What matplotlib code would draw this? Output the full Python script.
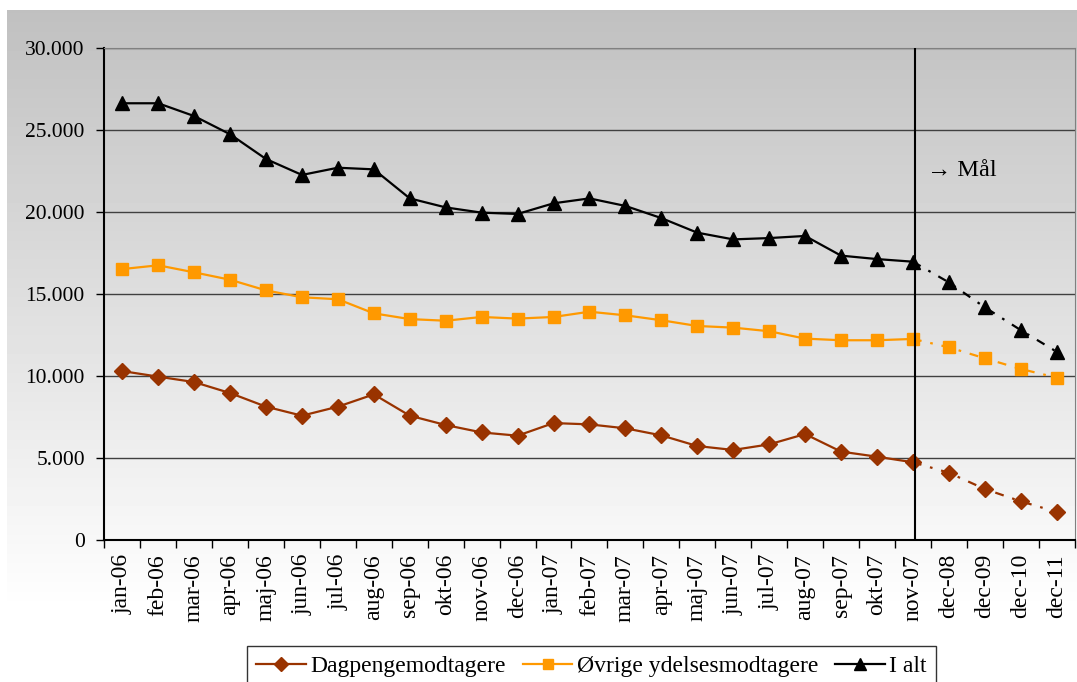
import numpy as np
import matplotlib.pyplot as plt
from matplotlib.lines import Line2D
from matplotlib.ticker import FuncFormatter, FixedLocator

plt.rcParams["font.family"] = ["Liberation Serif", "DejaVu Serif"]

months = ["jan-06", "feb-06", "mar-06", "apr-06", "maj-06", "jun-06", "jul-06",
          "aug-06", "sep-06", "okt-06", "nov-06", "dec-06", "jan-07", "feb-07",
          "mar-07", "apr-07", "maj-07", "jun-07", "jul-07", "aug-07", "sep-07",
          "okt-07", "nov-07", "dec-08", "dec-09", "dec-10", "dec-11"]

dagpenge = [10300, 9960, 9630, 8960, 8130, 7580, 8130, 8880, 7580, 7010, 6560,
            6360, 7130, 7050, 6810, 6380, 5730, 5490, 5830, 6460, 5390, 5080,
            4740, 4100, 3110, 2360, 1710]
ovrige = [16520, 16750, 16320, 15870, 15220, 14800, 14680, 13820, 13470, 13370,
          13600, 13500, 13600, 13920, 13700, 13400, 13050, 12950, 12730, 12280,
          12180, 12180, 12260, 11750, 11080, 10430, 9900]
i_alt = [26630, 26630, 25850, 24740, 23230, 22260, 22700, 22600, 20830, 20280,
         19960, 19880, 20530, 20830, 20370, 19630, 18740, 18330, 18410, 18540,
         17340, 17130, 16970, 15710, 14190, 12800, 11480]

last_actual = 22  # nov-07, after that targets ("Mål")

W, H = 1077, 682
fig = plt.figure(figsize=(W / 100, H / 100), dpi=100)

# gradient chart background (gray at top -> white lower down)
bg = fig.add_axes([7 / W, 0, 1 - 7 / W, 1 - 10 / H])
rows = np.arange(10, H)
shade = np.clip(192 + (rows - 10) / (610 - 10) * 63, 0, 255) / 255
bg.imshow(shade.reshape(-1, 1), aspect="auto", cmap="gray", vmin=0, vmax=1,
          extent=[0, 1, 0, 1], origin="upper")
bg.set_axis_off()

ax = fig.add_axes([104.3 / W, 1 - 540 / H, (1074.6 - 104.3) / W, 492 / H])
ax.patch.set_alpha(0)

x = np.arange(len(months))
series = [
    (dagpenge, "#993300", "D", 8, "Dagpengemodtagere"),
    (ovrige, "#FF9900", "s", 8.5, "Øvrige ydelsesmodtagere"),
    (i_alt, "black", "^", 10, "I alt"),
]
handles = []
for vals, col, mk, ms, lab in series:
    v = np.array(vals)
    n = last_actual + 1
    ax.plot(x[:n], v[:n], color=col, lw=1.6, marker=mk, ms=ms, mec=col, zorder=3)
    ax.plot(x[last_actual:], v[last_actual:], color=col, lw=1.6,
            linestyle=(0, (4, 4, 1.2, 4)), marker=mk, ms=ms, mec=col, zorder=3,
            markevery=list(range(1, len(months) - last_actual)))
    handles.append(Line2D([], [], color=col, lw=1.6, marker=mk, ms=ms - 1, mec=col, label=lab))

ax.axvline(last_actual + 0.05, color="black", lw=1.5, zorder=4)
ax.text(last_actual + 0.4, 22550, "→ Mål", fontsize=17.5, va="center", ha="left")

ax.set_xlim(-0.5, len(months) - 0.5)
ax.set_ylim(0, 30000)
ax.set_yticks(np.arange(0, 30001, 5000))
ax.yaxis.set_major_formatter(FuncFormatter(lambda v, _: f"{v:,.0f}".replace(",", ".")))
ax.grid(True, axis="y", color="#404040", lw=1)
ax.set_axisbelow(True)

ax.set_xticks(x)
ax.set_xticklabels(months, rotation=90, fontsize=17)
ax.tick_params(axis="x", which="major", length=0, pad=10)
ax.xaxis.set_minor_locator(FixedLocator(np.arange(-0.5, len(months), 1)))
ax.tick_params(axis="x", which="minor", length=6, width=1, direction="out")
ax.tick_params(axis="y", labelsize=15.5, length=6, width=1, direction="out", pad=8)

for s in ["left", "bottom"]:
    ax.spines[s].set_color("black")
    ax.spines[s].set_linewidth(1.5)
ax.spines["top"].set_color("#808080")
ax.spines["right"].set_color("#808080")

leg = fig.legend(handles=handles, loc="upper left", bbox_to_anchor=(247 / W, 1 - 646 / H),
                 ncol=3, fontsize=17, frameon=True, fancybox=False, borderaxespad=0,
                 handlelength=2.1, columnspacing=0.7, handletextpad=0.2, borderpad=0.4)
leg.get_frame().set_edgecolor("black")
leg.get_frame().set_facecolor("white")
leg.get_frame().set_linewidth(1)

plt.savefig("out.png", dpi=100)
